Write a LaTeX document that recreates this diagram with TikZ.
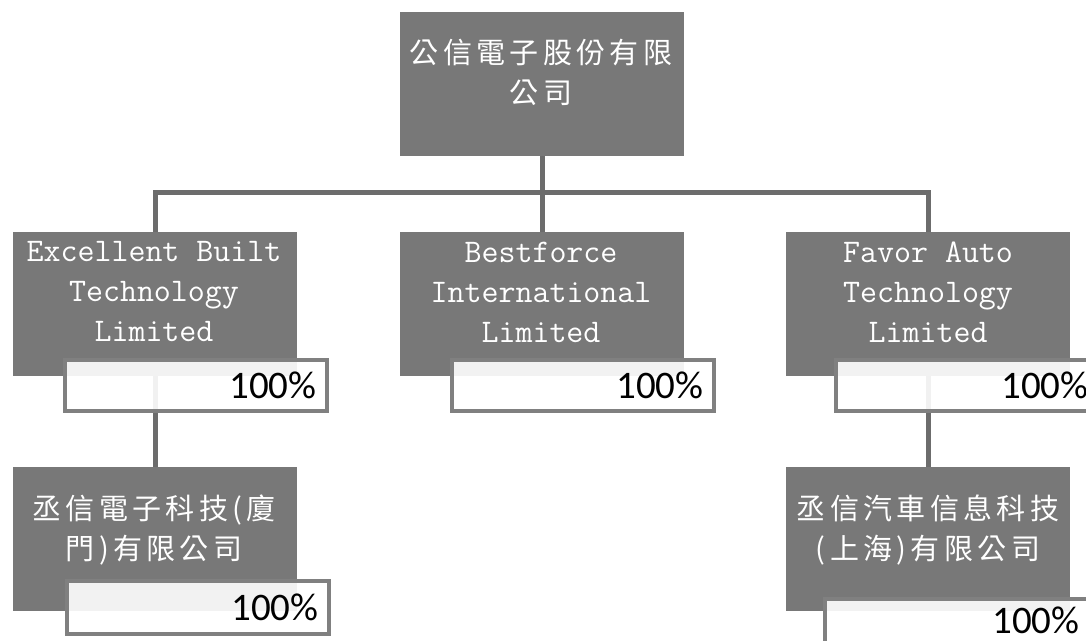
\documentclass[tikz,border=0pt]{standalone}
\usepackage{fontspec}
\newfontfamily\cjkfont[LetterSpace=15]{Noto Sans CJK TC}
\newfontfamily\pctfont{Carlito}
\definecolor{boxgray}{RGB}{120,120,120}
\definecolor{linegray}{RGB}{108,108,108}
\definecolor{pctborder}{RGB}{128,128,128}
\pgfdeclarelayer{bg}
\pgfsetlayers{bg,main}
\begin{document}
\begin{tikzpicture}[x=0.5pt,y=-0.5pt,
  orgbox/.style={draw=boxgray, fill=boxgray, line width=0.5pt, minimum width=141.5pt, minimum height=71.5pt, anchor=north west, inner sep=0pt},
  pctbox/.style={draw=pctborder, line width=2pt, fill=white, fill opacity=0.91, anchor=north west, inner sep=0pt},
  latintext/.style={text=white, align=center, inner sep=0pt, font=\ttfamily\fontsize{16.5pt}{20pt}\selectfont},
  cjktext/.style={text=white, align=center, inner sep=0pt, font=\cjkfont\fontsize{14.5pt}{20pt}\selectfont},
  pcttext/.style={anchor=east, inner sep=0pt, font=\pctfont\fontsize{19.5pt}{22pt}\selectfont},
  link/.style={draw=linegray, line width=2.5pt}]
\useasboundingbox (0,0) rectangle (1086,641);
% boxes
\node[orgbox] (top) at (400,12) {};
\node[orgbox] (b1) at (13,232) {};
\node[orgbox] (b2) at (400,232) {};
\node[orgbox] (b3) at (786,232) {};
\node[orgbox] (b4) at (13,467) {};
\node[orgbox] (b5) at (786,467) {};
% texts
\node[cjktext] (t0) at (541,72) {公信電子股份有限\\公司};
\node[latintext] (t1) at (154,292) {Excellent Built\\Technology\\Limited};
\node[latintext] (t2) at (541,292) {Bestforce\\International\\Limited};
\node[latintext] (t3) at (928,292) {Favor Auto\\Technology\\Limited};
\node[cjktext] (t4) at (154,530) {丞信電子科技(廈\\門)有限公司};
\node[cjktext] (t5) at (928,530) {丞信汽車信息科技\\(上海)有限公司};
% percentage boxes
\node[pctbox, minimum width=131pt, minimum height=25.5pt] (p1) at (63,358) {};
\node[pctbox, minimum width=131pt, minimum height=25.5pt] (p2) at (450,358) {};
\node[pctbox, minimum width=131.5pt, minimum height=25.5pt] (p3) at (834,358) {};
\node[pctbox, minimum width=131pt, minimum height=26.5pt] (p4) at (65,579) {};
\node[pctbox, minimum width=132.5pt, minimum height=27pt] (p5) at (823,597) {};
\node[pcttext] (q1) at ([xshift=-6pt]p1.east) {100\%};
\node[pcttext] (q2) at ([xshift=-6pt]p2.east) {100\%};
\node[pcttext] (q3) at ([xshift=-6pt]p3.east) {100\%};
\node[pcttext] (q4) at ([xshift=-6pt]p4.east) {100\%};
\node[pcttext] (q5) at ([xshift=-6pt,yshift=3pt]p5.east) {100\%};
% connectors
\coordinate (bus) at (541.5,193);
\begin{pgfonlayer}{bg}
\fill[white] (0,0) rectangle (1086,641);
\draw[link] (top.south) -- (b2.north);
\draw[link] (b1.north) |- (bus) -| (b3.north);
\draw[link] (b1.south) -- (b4.north);
\draw[link] (b3.south) -- (b5.north);
\end{pgfonlayer}
\end{tikzpicture}
\end{document}
